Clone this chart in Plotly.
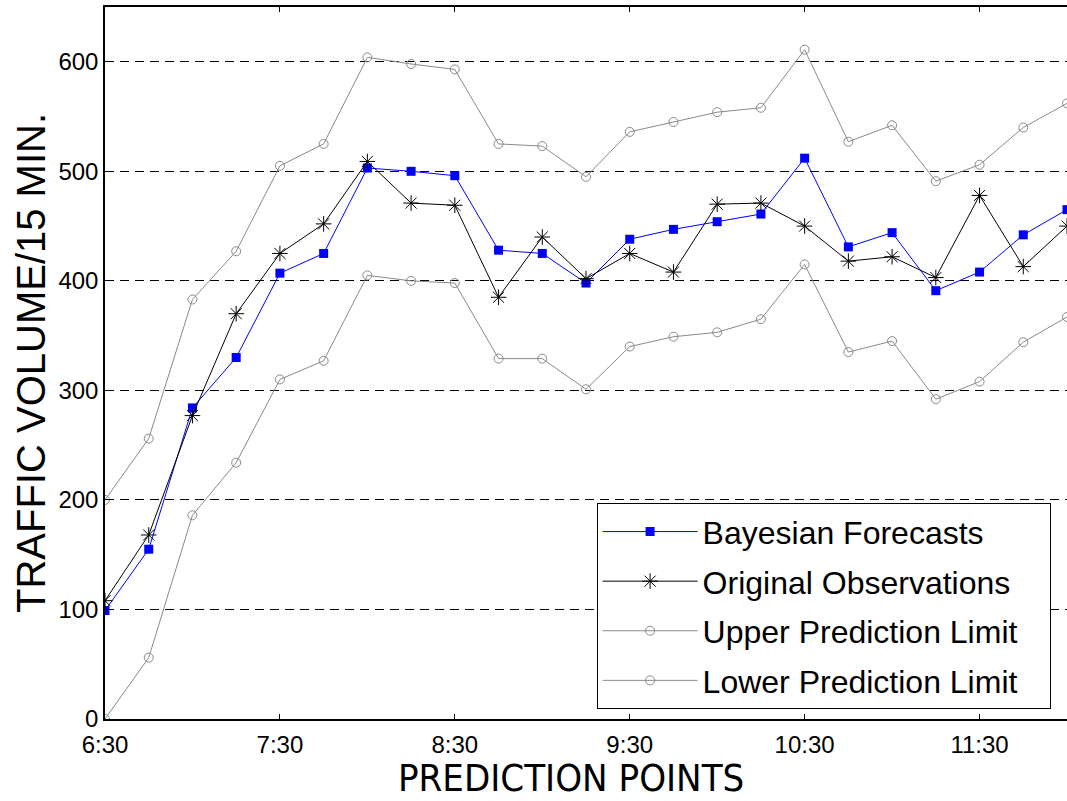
import plotly.graph_objects as go

times = ["6:30", "6:45", "7:00", "7:15", "7:30", "7:45", "8:00", "8:15", "8:30", "8:45",
         "9:00", "9:15", "9:30", "9:45", "10:00", "10:15", "10:30", "10:45", "11:00",
         "11:15", "11:30", "11:45", "12:00"]
bayesian = [99, 155, 284, 330, 407, 425, 503, 500, 496, 428, 425, 398, 438, 447, 454,
            461, 512, 431, 444, 391, 408, 442, 465]
observed = [108, 168, 277, 370, 425, 452, 509, 471, 469, 385, 440, 402, 425, 408, 470,
            471, 450, 418, 422, 403, 478, 413, 450]
upper = [200, 256, 383, 427, 505, 525, 604, 598, 593, 525, 523, 495, 536, 545, 554,
         558, 611, 527, 542, 491, 506, 540, 562]
lower = [0, 56, 186, 234, 310, 327, 405, 400, 398, 329, 329, 301, 340, 349, 353,
         365, 415, 335, 345, 292, 308, 344, 367]
tick_labels = ["6:30", "7:30", "8:30", "9:30", "10:30", "11:30"]
y_ticks = [0, 100, 200, 300, 400, 500, 600]


def to_min(t):
    h, m = t.split(":")
    return (int(h) - 6) * 60 + int(m) - 30


x = [to_min(t) for t in times]
tick_vals = [to_min(t) for t in tick_labels]

GRAY = "#8a8a8a"
PAD = "\u00a0\u00a0\u00a0"
fig = go.Figure()
fig.add_trace(go.Scatter(x=x, y=bayesian, name="Bayesian Forecasts" + PAD, mode="lines+markers",
                         line=dict(color="#0000ff", width=1),
                         marker=dict(symbol="square", size=9, color="#0000ff"),
                         legendgroup="a"))
fig.add_trace(go.Scatter(x=x, y=observed, name="Original Observations" + PAD, mode="lines+markers",
                         line=dict(color="black", width=1),
                         marker=dict(symbol="asterisk-open", size=13,
                                     line=dict(color="black", width=1)),
                         legendgroup="b"))
fig.add_trace(go.Scatter(x=x, y=upper, name="Upper Prediction Limit" + PAD, mode="lines+markers",
                         line=dict(color=GRAY, width=1),
                         marker=dict(symbol="circle-open", size=9,
                                     line=dict(color=GRAY, width=1)),
                         legendgroup="c"))
fig.add_trace(go.Scatter(x=x, y=lower, name="Lower Prediction Limit" + PAD, mode="lines+markers",
                         line=dict(color=GRAY, width=1),
                         marker=dict(symbol="circle-open", size=9,
                                     line=dict(color=GRAY, width=1)),
                         legendgroup="d"))

FONT = "Liberation Sans, Arial, sans-serif"
fig.update_layout(
    width=1067, height=801,
    margin=dict(l=105, r=0, t=7, b=82),
    paper_bgcolor="white", plot_bgcolor="white",
    font=dict(family=FONT, color="black"),
    showlegend=True,
    legend=dict(x=0.511, y=0.303, xanchor="left", yanchor="top",
                bordercolor="black", borderwidth=1, bgcolor="white",
                font=dict(size=32, family=FONT), traceorder="grouped",
                tracegroupgap=5, itemwidth=95),
    xaxis=dict(range=[0, 330], tickvals=tick_vals, ticktext=tick_labels,
               showgrid=False, zeroline=False, showline=True, linecolor="black",
               linewidth=1.5, mirror="ticks", ticks="inside", ticklen=5, tickcolor="black",
               tickfont=dict(size=24), ticklabelstandoff=3),
    yaxis=dict(range=[0, 650], tickvals=y_ticks, showgrid=True, gridcolor="black",
               griddash="9px,6px", gridwidth=1, zeroline=False, showline=True,
               linecolor="black", linewidth=1.5, ticks="inside", ticklen=5,
               tickcolor="black", tickfont=dict(size=24),
               title=dict(text="TRAFFIC VOLUME/15 MIN.", font=dict(size=40), standoff=0)),
    annotations=[dict(text="PREDICTION POINTS", xref="paper", yref="paper",
                      x=(571 - 105) / 962, y=-(801 - 719) / 712, xanchor="center",
                      yanchor="bottom", showarrow=False, borderpad=0,
                      font=dict(size=38, family="Liberation Sans Narrow, Arial Narrow, DejaVu Sans Condensed, Liberation Sans"))],
)
fig.write_html("out.html")
